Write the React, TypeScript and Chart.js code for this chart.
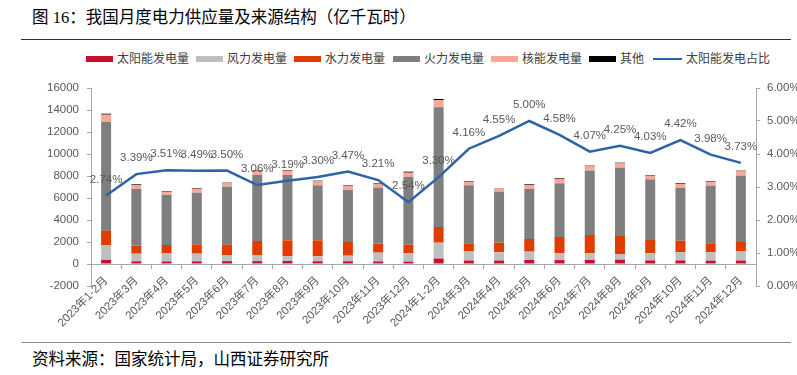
import React, { useEffect, useRef } from "react";
import { Chart, registerables } from "chart.js";

Chart.register(...registerables);

const categories = [
  "2023年1-2月", "2023年3月", "2023年4月", "2023年5月", "2023年6月", "2023年7月",
  "2023年8月", "2023年9月", "2023年10月", "2023年11月", "2023年12月",
  "2024年1-2月", "2024年3月", "2024年4月", "2024年5月", "2024年6月", "2024年7月",
  "2024年8月", "2024年9月", "2024年10月", "2024年11月", "2024年12月",
];

const solar = [374, 245, 233, 241, 259, 261, 272, 250, 249, 236, 213, 495, 314, 314, 362, 357, 364, 391, 326, 324, 300, 316];
const wind = [1353, 694, 767, 698, 559, 557, 425, 447, 509, 794, 787, 1444, 868, 747, 759, 643, 636, 488, 674, 737, 761, 866];
const hydro = [1303, 728, 727, 849, 970, 1273, 1454, 1454, 1242, 818, 757, 1424, 697, 878, 1152, 1454, 1636, 1666, 1182, 1060, 818, 817];
const thermal = [9908, 5151, 4545, 4696, 5242, 5999, 5939, 5000, 4727, 5091, 6151, 10878, 5272, 4636, 4545, 4879, 5848, 6212, 5514, 4787, 5242, 6031];
const nuclear = [636, 363, 303, 364, 333, 394, 394, 363, 394, 363, 394, 667, 333, 303, 363, 394, 394, 394, 334, 364, 363, 393];
const other = [91, 61, 61, 60, 30, 61, 61, 61, 60, 61, 91, 92, 61, 30, 61, 60, 61, 60, 60, 61, 61, 61];
const solarShare = [2.74, 3.39, 3.51, 3.49, 3.5, 3.06, 3.19, 3.3, 3.47, 3.21, 2.54, 3.3, 4.16, 4.55, 5.0, 4.58, 4.07, 4.25, 4.03, 4.42, 3.98, 3.73];

const leftTicks = { min: -2000, max: 16000, step: 2000 };
const rightTicks = { min: 0, max: 6, step: 1 };

const COLORS = {
  solar: "#C8102E",
  wind: "#BFBFBF",
  hydro: "#E03C00",
  thermal: "#7F7F7F",
  nuclear: "#F7A898",
  other: "#000000",
  line: "#2C64A6",
};

const FONT = '"Liberation Sans", "Noto Sans CJK SC", sans-serif';
const CJK = '"Liberation Serif", "Noto Sans CJK SC", serif';

const legendItems = [
  { label: "太阳能发电量", color: COLORS.solar, x: 86, type: "box" },
  { label: "风力发电量", color: COLORS.wind, x: 196, type: "box" },
  { label: "水力发电量", color: COLORS.hydro, x: 294, type: "box" },
  { label: "火力发电量", color: COLORS.thermal, x: 393, type: "box" },
  { label: "核能发电量", color: COLORS.nuclear, x: 491, type: "box" },
  { label: "其他", color: COLORS.other, x: 589, type: "box" },
  { label: "太阳能发电占比", color: COLORS.line, x: 653, type: "line" },
];

const pctLabelPlugin = {
  id: "pctLabels",
  afterDatasetsDraw(chart: any) {
    const meta = chart.getDatasetMeta(6);
    const ctx = chart.ctx;
    ctx.save();
    ctx.font = `11.5px ${FONT}`;
    ctx.fillStyle = "#595959";
    ctx.textAlign = "center";
    ctx.textBaseline = "middle";
    meta.data.forEach((pt: any, i: number) => {
      ctx.fillText(solarShare[i].toFixed(2) + "%", pt.x, pt.y - 16);
    });
    ctx.restore();
  },
};

export default function App() {
  const ref = useRef<HTMLCanvasElement | null>(null);

  useEffect(() => {
    if (!ref.current) return;
    const barDs = (label: string, data: number[], color: string) => ({
      type: "bar" as const,
      label,
      data,
      backgroundColor: color,
      borderWidth: 0,
      yAxisID: "y",
      order: 1,
      categoryPercentage: 1,
      barPercentage: 0.33,
    });
    const tickFont = { family: FONT, size: 11.5 };
    const chart = new Chart(ref.current, {
      type: "bar",
      data: {
        labels: categories,
        datasets: [
          barDs("太阳能发电量", solar, COLORS.solar),
          barDs("风力发电量", wind, COLORS.wind),
          barDs("水力发电量", hydro, COLORS.hydro),
          barDs("火力发电量", thermal, COLORS.thermal),
          barDs("核能发电量", nuclear, COLORS.nuclear),
          barDs("其他", other, COLORS.other),
          {
            type: "line" as const,
            label: "太阳能发电占比",
            data: solarShare,
            borderColor: COLORS.line,
            backgroundColor: COLORS.line,
            borderWidth: 2.5,
            pointRadius: 0,
            tension: 0,
            yAxisID: "y1",
            order: 0,
          } as any,
        ],
      },
      options: {
        animation: false,
        responsive: false,
        maintainAspectRatio: false,
        layout: { padding: { top: 18, bottom: 59, left: 0, right: 0 } },
        plugins: { legend: { display: false }, tooltip: { enabled: false } },
        scales: {
          x: {
            stacked: true,
            position: { y: 0 } as any,
            grid: { drawOnChartArea: false, drawTicks: true, tickLength: 4, color: "#A6A6A6", offset: true },
            border: { display: true, color: "#A6A6A6", width: 1 },
            ticks: {
              autoSkip: false,
              maxRotation: 45,
              minRotation: 45,
              color: "#595959",
              font: tickFont,
              padding: 6,
            },
          },
          y: {
            stacked: true,
            position: "left",
            min: leftTicks.min,
            max: leftTicks.max,
            afterFit: (s: any) => { s.width = 91; },
            grid: { drawOnChartArea: false, drawTicks: true, tickLength: 4, color: "#A6A6A6" },
            border: { display: true, color: "#A6A6A6", width: 1 },
            ticks: {
              stepSize: leftTicks.step,
              color: "#595959",
              font: tickFont,
              padding: 8,
              callback: (v: any) => String(v),
            },
          },
          y1: {
            position: "right",
            min: rightTicks.min,
            max: rightTicks.max,
            afterFit: (s: any) => { s.width = 41; },
            grid: { drawOnChartArea: false, drawTicks: true, tickLength: 4, color: "#A6A6A6" },
            border: { display: true, color: "#A6A6A6", width: 1 },
            ticks: {
              stepSize: rightTicks.step,
              color: "#595959",
              font: tickFont,
              padding: 7,
              callback: (v: any) => Number(v).toFixed(2) + "%",
            },
          },
        },
      } as any,
      plugins: [pctLabelPlugin],
    });
    return () => chart.destroy();
  }, []);

  return (
    <div style={{ position: "absolute", left: 0, top: 0, width: 797, height: 375, background: "#fff", overflow: "hidden" }}>
      <div style={{ position: "absolute", left: 32, top: 6, fontFamily: CJK, fontSize: 16.5, lineHeight: "24px", color: "#000", whiteSpace: "nowrap" }}>
        图 16：我国月度电力供应量及来源结构（亿千瓦时）
      </div>
      <div style={{ position: "absolute", left: 21, top: 39, width: 770, height: 0, borderTop: "1.5px solid #333" }} />
      {legendItems.map((it) => (
        <div key={it.label} style={{ position: "absolute", left: it.x, top: 51, height: 16, display: "flex", alignItems: "center", whiteSpace: "nowrap" }}>
          <div style={{ width: it.type === "line" ? 29 : 27, height: it.type === "line" ? 2 : 6, background: it.color }} />
          <span style={{ marginLeft: 4, fontFamily: FONT, fontSize: 12, color: "#404040", lineHeight: "16px" }}>{it.label}</span>
        </div>
      ))}
      <canvas ref={ref} width={797} height={275} style={{ position: "absolute", left: 0, top: 70, width: 797, height: 275 }} />
      <div style={{ position: "absolute", left: 21, top: 342, width: 770, height: 0, borderTop: "1.5px solid #8c8c8c" }} />
      <div style={{ position: "absolute", left: 32, top: 348, fontFamily: CJK, fontSize: 16.5, lineHeight: "24px", color: "#000", whiteSpace: "nowrap" }}>
        资料来源：国家统计局，山西证券研究所
      </div>
    </div>
  );
}
